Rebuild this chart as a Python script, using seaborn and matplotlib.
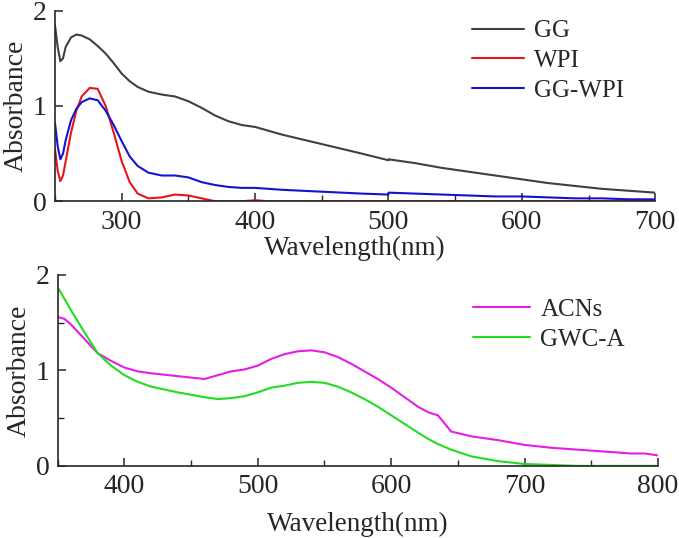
import numpy as np
import pandas as pd
import seaborn as sns
import matplotlib.pyplot as plt
from matplotlib.ticker import MultipleLocator

# top panel data (wavelength, absorbance)
wl_top = [250, 252, 254, 256, 258, 262, 266, 270, 276, 282, 288, 294, 300, 306, 312, 320,
          330, 340, 350, 360, 370, 380, 390, 400, 410, 420, 435, 450, 465, 480, 500,
          500, 520, 540, 560, 580, 600, 620, 640, 660, 680, 700]
gg = [1.85, 1.62, 1.47, 1.50, 1.62, 1.72, 1.75, 1.74, 1.70, 1.63, 1.55, 1.45, 1.34, 1.26, 1.20, 1.15,
      1.12, 1.10, 1.05, 0.98, 0.90, 0.84, 0.80, 0.78, 0.74, 0.70, 0.65, 0.60, 0.55, 0.50, 0.43,
      0.44, 0.40, 0.35, 0.31, 0.27, 0.23, 0.19, 0.16, 0.13, 0.11, 0.09]
wpi = [0.55, 0.32, 0.21, 0.27, 0.42, 0.72, 0.95, 1.10, 1.19, 1.18, 1.00, 0.72, 0.42, 0.20, 0.08, 0.03,
       0.04, 0.07, 0.06, 0.03, 0.00, 0.00, 0.00, 0.01, 0.00, 0.00, 0.00, 0.00, 0.00, 0.00, 0.00,
       0.00, 0.00, 0.00, 0.00, 0.00, 0.00, 0.00, 0.00, 0.00, 0.00, 0.00]
gg_wpi = [0.82, 0.58, 0.44, 0.50, 0.64, 0.85, 0.97, 1.04, 1.08, 1.06, 0.95, 0.80, 0.63, 0.47, 0.37, 0.30,
          0.27, 0.27, 0.25, 0.20, 0.17, 0.15, 0.14, 0.14, 0.13, 0.12, 0.11, 0.10, 0.09, 0.08, 0.07,
          0.09, 0.08, 0.07, 0.06, 0.05, 0.05, 0.04, 0.03, 0.03, 0.02, 0.02]

# bottom panel data
wl_bot = [350, 355, 360, 370, 380, 390, 400, 410, 420, 440, 460, 470, 480, 490, 500, 510, 520,
          530, 540, 550, 560, 570, 580, 590, 600, 610, 620, 628, 635, 645, 660, 680, 700, 720,
          740, 760, 780, 790, 800]
acns = [1.56, 1.54, 1.48, 1.33, 1.18, 1.10, 1.03, 0.99, 0.97, 0.94, 0.91, 0.95, 0.99, 1.01, 1.05, 1.12, 1.17,
        1.20, 1.21, 1.19, 1.14, 1.07, 0.99, 0.91, 0.82, 0.72, 0.62, 0.56, 0.53, 0.36, 0.31, 0.27, 0.22, 0.19,
        0.17, 0.15, 0.13, 0.13, 0.11]
gwca = [1.87, 1.75, 1.63, 1.40, 1.18, 1.05, 0.95, 0.88, 0.83, 0.77, 0.72, 0.70, 0.71, 0.73, 0.77, 0.82, 0.84,
        0.87, 0.88, 0.87, 0.83, 0.77, 0.70, 0.62, 0.53, 0.44, 0.35, 0.28, 0.23, 0.17, 0.10, 0.05, 0.02, 0.01,
        0.00, 0.00, 0.00, 0.00, 0.00]

sns.set_style("ticks")
plt.rcParams['font.family'] = ['Liberation Serif', 'DejaVu Serif']
plt.rcParams['xtick.direction'] = 'in'
plt.rcParams['ytick.direction'] = 'in'

fig = plt.figure(figsize=(6.79, 5.38), dpi=100)
ax1 = fig.add_axes([0.081, 0.626, 0.884, 0.354])
ax2 = fig.add_axes([0.085, 0.134, 0.884, 0.355])

sns.lineplot(x=wl_top, y=gg, ax=ax1, color="#404040", lw=1.5, label="GG", estimator=None, sort=False)
sns.lineplot(x=wl_top, y=wpi, ax=ax1, color="#e8141c", lw=1.5, label="WPI", estimator=None, sort=False)
sns.lineplot(x=wl_top, y=gg_wpi, ax=ax1, color="#1414d0", lw=1.5, label="GG-WPI", estimator=None, sort=False)

sns.lineplot(x=wl_bot, y=acns, ax=ax2, color="#e41ee4", lw=1.5, label="ACNs", estimator=None, sort=False)
sns.lineplot(x=wl_bot, y=gwca, ax=ax2, color="#22dc22", lw=1.5, label="GWC-A", estimator=None, sort=False)

ax1.set_xlim(250, 700)
ax1.set_ylim(0, 2)
ax1.set_xticks([300, 400, 500, 600, 700])
ax1.xaxis.set_minor_locator(MultipleLocator(50))
ax1.set_yticks([0, 1, 2])

ax2.set_xlim(350, 800)
ax2.set_ylim(0, 2)
ax2.set_xticks([400, 500, 600, 700, 800])
ax2.xaxis.set_minor_locator(MultipleLocator(50))
ax2.set_yticks([0, 1, 2])
ax2.yaxis.set_minor_locator(MultipleLocator(0.5))

for ax in (ax1, ax2):
    sns.despine(ax=ax)
    ax.spines['left'].set_linewidth(1.2)
    ax.spines['bottom'].set_linewidth(1.2)
    ax.tick_params(which='major', length=6, width=1.1, labelsize=20, pad=6)
    ax.tick_params(which='minor', length=4, width=1.0)
    ax.set_ylabel("Absorbance", fontsize=20, labelpad=3)

ax1.set_xlabel("Wavelength(nm)", fontsize=19.5, labelpad=1)
ax2.set_xlabel("Wavelength(nm)", fontsize=19.5, labelpad=9)

ax1.legend(loc='upper left', bbox_to_anchor=(0.678, 1.005), frameon=False, fontsize=18,
           handlelength=2.1, handletextpad=0.4, labelspacing=0.29, borderaxespad=0.0)
ax2.legend(loc='upper left', bbox_to_anchor=(0.675, 0.93), frameon=False, fontsize=18,
           handlelength=2.3, handletextpad=0.4, labelspacing=0.29, borderaxespad=0.0)

fig.savefig("out.png", dpi=100)
